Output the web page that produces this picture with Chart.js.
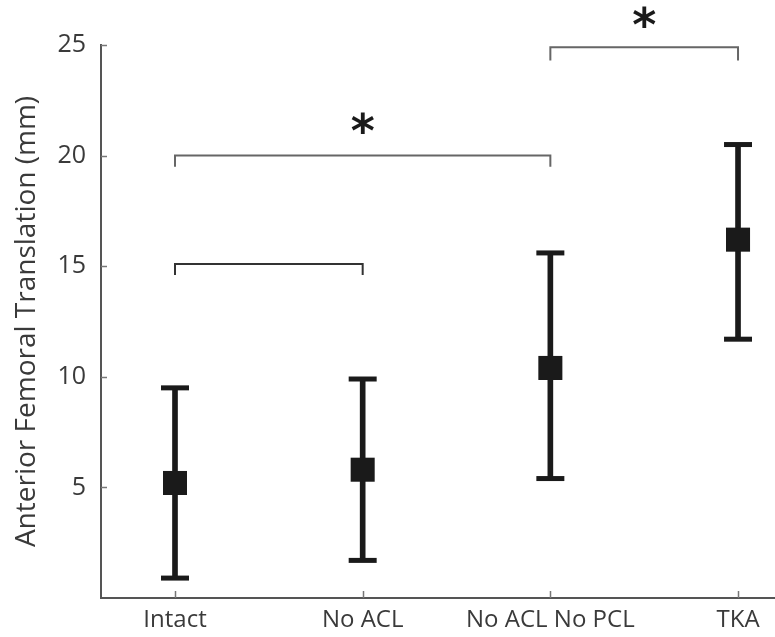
<!DOCTYPE html>
<html>
<head>
<meta charset="utf-8">
<script src="https://cdn.jsdelivr.net/npm/chart.js@4/dist/chart.umd.min.js"></script>
<style>
html,body{margin:0;padding:0;background:#fff;}
#wrap{width:775px;height:637px;position:relative;}
</style>
</head>
<body>
<div id="wrap"><canvas id="c" width="775" height="637"></canvas></div>
<script>
// ---- data ----
const categories = ['Intact', 'No ACL', 'No ACL No PCL', 'TKA'];
const means = [5.2, 5.8, 10.4, 16.2];
const upper = [9.5, 9.9, 15.6, 20.5];
const lower = [0.9, 1.7, 5.4, 11.7];
const yTicks = [5, 10, 15, 20, 25];
// significance brackets: from category, to category, level, end of the drop
const bracketFrom = [1, 1, 3];
const bracketTo = [2, 3, 4];
const bracketLevel = [15.1, 20.0, 24.9];
const bracketEnd = [14.6, 19.5, 24.3];
// asterisks
const starX = [2, 3.5];
const starY = [21.3, 26.1];

const ink = '#1a1a1a';
const textCol = '#3a3a3a';
const axisCol = '#555';

const bracketSets = bracketFrom.map((f, i) => ({
  type: 'line',
  data: [
    {x: f, y: bracketEnd[i]},
    {x: f, y: bracketLevel[i]},
    {x: bracketTo[i], y: bracketLevel[i]},
    {x: bracketTo[i], y: bracketEnd[i]}
  ],
  borderColor: i === 0 ? '#333' : '#666',
  borderWidth: 2,
  pointRadius: 0,
  fill: false,
  tension: 0,
  clip: false,
  order: 5
}));

const innerTicks = {
  id: 'innerTicks',
  afterDatasetsDraw(chart) {
    const {ctx, chartArea, scales} = chart;
    ctx.save();
    ctx.strokeStyle = '#777';
    ctx.lineWidth = 1.5;
    yTicks.forEach(v => {
      const y = Math.round(scales.y.getPixelForValue(v)) + 0.5;
      ctx.beginPath();
      ctx.moveTo(chartArea.left, y);
      ctx.lineTo(chartArea.left + 6, y);
      ctx.stroke();
    });
    categories.forEach((c, i) => {
      const x = Math.round(scales.x.getPixelForValue(i + 1)) + 0.5;
      ctx.beginPath();
      ctx.moveTo(x, chartArea.bottom);
      ctx.lineTo(x, chartArea.bottom - 7);
      ctx.stroke();
    });
    // asterisks
    ctx.fillStyle = ink;
    ctx.font = 'bold 46px "DejaVu Sans"';
    ctx.textAlign = 'center';
    ctx.textBaseline = 'middle';
    starX.forEach((sx, i) => {
      const px = scales.x.getPixelForValue(sx);
      const py = scales.y.getPixelForValue(starY[i]);
      ctx.fillText('*', px, py + 8);
    });
    ctx.restore();
  }
};

new Chart(document.getElementById('c'), {
  type: 'scatter',
  data: {
    datasets: [
      ...bracketSets,
      {
        type: 'bar',
        data: categories.map((c, i) => ({x: i + 1, y: [lower[i], upper[i]]})),
        backgroundColor: ink,
        borderWidth: 0,
        barThickness: 5,
        grouped: false,
        order: 3
      },
      {
        type: 'scatter',
        data: categories.map((c, i) => ({x: i + 1, y: upper[i]})).concat(
              categories.map((c, i) => ({x: i + 1, y: lower[i]}))),
        pointStyle: 'line',
        pointRadius: 14,
        borderWidth: 5,
        borderColor: ink,
        order: 2
      },
      {
        type: 'scatter',
        data: categories.map((c, i) => ({x: i + 1, y: means[i]})),
        pointStyle: 'rect',
        pointRadius: 17,
        backgroundColor: ink,
        borderColor: ink,
        borderWidth: 0,
        order: 1
      }
    ]
  },
  options: {
    responsive: false,
    animation: false,
    layout: {autoPadding: false, padding: {top: 45, right: 0, left: 0, bottom: 0}},
    plugins: {legend: {display: false}, tooltip: {enabled: false}},
    scales: {
      x: {
        type: 'linear',
        offset: false,
        min: 0.6057,
        max: 4.197,
        afterBuildTicks: s => { s.ticks = categories.map((c, i) => ({value: i + 1})); },
        afterFit: s => { s.height = 39; s.paddingRight = 0; },
        grid: {display: false, drawTicks: false, tickLength: 0, offset: false},
        border: {display: true, color: axisCol, width: 2},
        ticks: {
          autoSkip: false,
          maxRotation: 0,
          padding: 8,
          color: textCol,
          font: {family: '"Open Sans"', size: 24},
          callback: v => categories[v - 1]
        }
      },
      y: {
        type: 'linear',
        min: 0,
        max: 25,
        afterBuildTicks: s => { s.ticks = yTicks.map(v => ({value: v})); },
        afterFit: s => { s.width = 101; },
        grid: {display: false, drawTicks: false, tickLength: 0},
        border: {display: true, color: axisCol, width: 2},
        ticks: {
          padding: 15,
          color: textCol,
          font: {family: '"Open Sans"', size: 25}
        },
        title: {
          display: true,
          text: 'Anterior Femoral Translation (mm)',
          color: textCol,
          font: {family: '"Open Sans"', size: 28},
          padding: {top: 10, bottom: 0}
        }
      }
    }
  },
  plugins: [innerTicks]
});
</script>
</body>
</html>
